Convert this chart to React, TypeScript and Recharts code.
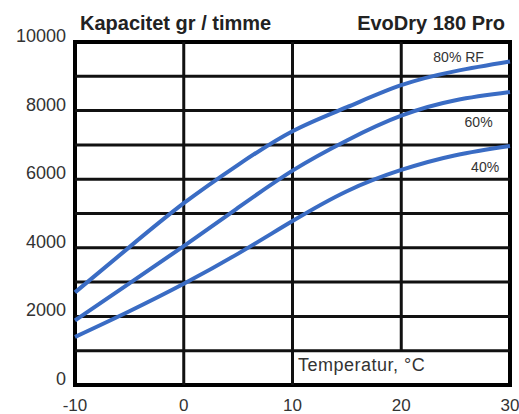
import React from 'react';
import { LineChart, Line, XAxis, YAxis, ReferenceLine, ReferenceArea, ReferenceDot } from 'recharts';

// Kapacitet gr / timme vs temperatur, EvoDry 180 Pro
const temps = [-10, -5, 0, 5, 10, 15, 20, 25, 30];
const rf80 = [2700, 4020, 5300, 6420, 7400, 8100, 8740, 9150, 9430];
const rf60 = [1880, 2960, 4050, 5170, 6250, 7130, 7850, 8300, 8540];
const rf40 = [1400, 2150, 2950, 3830, 4780, 5650, 6270, 6700, 6970];

const xTicks = [-10, 0, 10, 20, 30];
const yTicks = [0, 2000, 4000, 6000, 8000, 10000];
const gridY = [1000, 2000, 3000, 4000, 5000, 6000, 7000, 8000, 9000];

const curveLabels = [
  { x: 27.6, y: 9430, text: '80% RF' },
  { x: 28.4, y: 7530, text: '60%' },
  { x: 29.0, y: 6200, text: '40%' },
];

const data = temps.map((t, i) => ({ t, rf80: rf80[i], rf60: rf60[i], rf40: rf40[i] }));

const BLUE = '#3a6cc4';
const GRID = '#111';
const FONT = '"Liberation Sans", Arial, sans-serif';

const YTick = ({ x, y, payload }: any) => (
  <text x={x} y={y - 6} textAnchor="end" dominantBaseline="central" fontSize={18} fill="#333" fontFamily={FONT}>
    {payload.value}
  </text>
);

const XTick = ({ x, y, payload }: any) => (
  <text x={x} y={y + 20} textAnchor="middle" dominantBaseline="central" fontSize={17} fill="#333" fontFamily={FONT}>
    {payload.value}
  </text>
);

const CurveLabel = ({ viewBox, value }: any) => (
  <text x={viewBox.cx ?? viewBox.x} y={viewBox.cy ?? viewBox.y} textAnchor="end" fontSize={14} fill="#333" fontFamily={FONT}>
    {value}
  </text>
);

export default function App() {
  return (
    <div style={{ position: 'relative', width: 519, height: 414, fontFamily: FONT }}>
      <style>{'body{margin:0}'}</style>
      <LineChart width={519} height={414} data={data} margin={{ top: 42, right: 9, bottom: 0, left: 0 }}>
        <XAxis
          dataKey="t"
          type="number"
          domain={[-10, 30]}
          ticks={xTicks}
          axisLine={false}
          tickLine={false}
          tickSize={0}
          tickMargin={0}
          height={29}
          tick={<XTick />}
        />
        <YAxis
          type="number"
          domain={[0, 10000]}
          ticks={yTicks}
          axisLine={false}
          tickLine={false}
          tickSize={0}
          tickMargin={9}
          width={75}
          tick={<YTick />}
        />
        {gridY.map((v) => (
          <ReferenceLine key={`h${v}`} y={v} stroke={GRID} strokeWidth={3} />
        ))}
        <ReferenceLine x={0} stroke={GRID} strokeWidth={3} />
        <ReferenceLine x={10} stroke={GRID} strokeWidth={3} />
        <ReferenceLine segment={[{ x: 20, y: 1000 }, { x: 20, y: 10000 }]} stroke={GRID} strokeWidth={3} />
        <ReferenceArea x1={-10} x2={30} y1={0} y2={10000} fill="none" stroke="#000" strokeWidth={4} />
        <Line type="natural" dataKey="rf80" stroke={BLUE} strokeWidth={4} dot={false} isAnimationActive={false} />
        <Line type="natural" dataKey="rf60" stroke={BLUE} strokeWidth={4} dot={false} isAnimationActive={false} />
        <Line type="natural" dataKey="rf40" stroke={BLUE} strokeWidth={4} dot={false} isAnimationActive={false} />
        {curveLabels.map((l) => (
          <ReferenceDot key={l.text} x={l.x} y={l.y} r={0} stroke="none" label={<CurveLabel value={l.text} />} />
        ))}
      </LineChart>
      <div style={{ position: 'absolute', left: 80, top: 12, fontSize: 20, fontWeight: 'bold', color: '#222', whiteSpace: 'nowrap' }}>
        Kapacitet gr / timme
      </div>
      <div style={{ position: 'absolute', right: 14, top: 12, fontSize: 20, fontWeight: 'bold', color: '#222', whiteSpace: 'nowrap' }}>
        EvoDry 180 Pro
      </div>
      <div style={{ position: 'absolute', left: 298, top: 355, fontSize: 18, color: '#333', whiteSpace: 'nowrap', letterSpacing: 0.5 }}>
        Temperatur, °C
      </div>
    </div>
  );
}
